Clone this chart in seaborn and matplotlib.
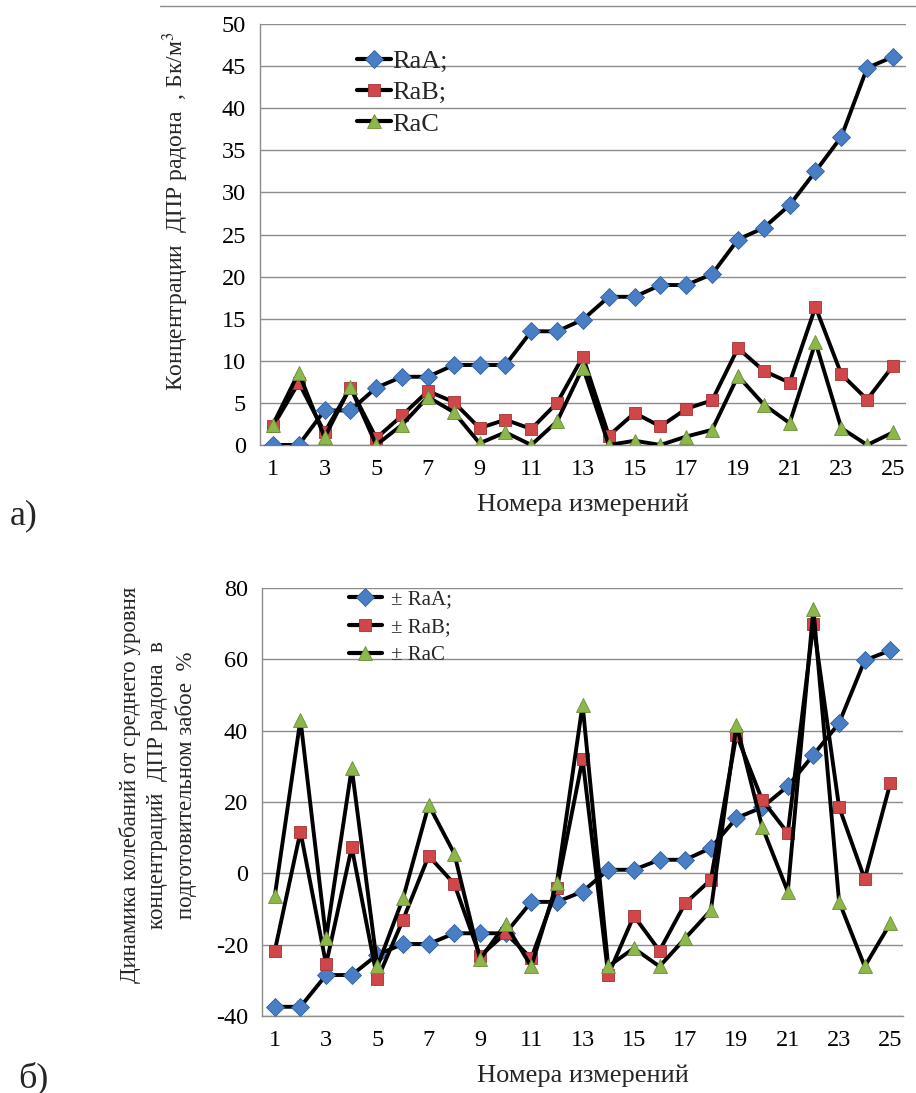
import matplotlib
matplotlib.use("Agg")
import matplotlib.pyplot as plt
import seaborn as sns
import numpy as np
import pandas as pd
from matplotlib.ticker import FixedLocator

# ---------------- data ----------------
measurements = list(range(1, 26))
x_tick_labels = [str(i) for i in range(1, 26, 2)]

raa_conc = [0, 0, 4.1, 4.1, 6.8, 8.1, 8.1, 9.5, 9.5, 9.5, 13.5, 13.5, 14.9,
            17.6, 17.6, 19.0, 19.0, 20.3, 24.4, 25.8, 28.5, 32.5, 36.6, 44.8, 46.1]
rab_conc = [2.2, 7.4, 1.5, 6.8, 0.8, 3.5, 6.4, 5.1, 2.0, 3.0, 1.9, 5.0, 10.5,
            1.1, 3.8, 2.2, 4.3, 5.3, 11.5, 8.8, 7.4, 16.4, 8.4, 5.4, 9.4]
rac_conc = [2.4, 8.6, 0.9, 6.9, 0.0, 2.4, 5.7, 3.9, 0.2, 1.5, 0.0, 2.8, 9.2,
            0.0, 0.5, 0.0, 1.0, 1.8, 8.2, 4.8, 2.6, 12.2, 2.0, 0.0, 1.5]

raa_dev = [-37.4, -37.4, -28.5, -28.5, -22.8, -19.8, -19.8, -16.8, -16.8, -16.8,
           -8.0, -8.0, -5.1, 1.0, 1.0, 3.8, 3.8, 7.1, 15.5, 18.5, 24.4, 33.2,
           42.1, 59.7, 62.5]
rab_dev = [-21.7, 11.7, -25.5, 7.3, -29.7, -13.0, 4.9, -3.0, -23.2, -16.8,
           -23.8, -4.2, 32.0, -28.5, -11.9, -21.7, -8.4, -1.8, 38.9, 20.6,
           11.3, 70.0, 18.6, -1.6, 25.3]
rac_dev = [-6.3, 43.1, -18.2, 29.5, -26.1, -7.0, 19.2, 5.5, -24.1, -14.2,
           -26.1, -2.6, 47.3, -26.1, -21.0, -26.1, -18.2, -10.4, 41.7, 13.1,
           -5.1, 74.1, -7.9, -26.1, -14.0]

top_labels = ["RaA;", "RaB;", "RaC"]
bottom_labels = ["± RaA;", "± RaB;", "± RaC"]
top_ylabel = "Концентрации  ДПР радона  , Бк/м$^3$"
bottom_ylabel = ("Динамика колебаний от среднего уровня\n"
                 "концентраций  ДПР радона  в\n"
                 "подготовительном забое  %")
xlabel = "Номера измерений"

# ---------------- style ----------------
sns.set_theme(style="white")
plt.rcParams["font.family"] = ["Liberation Serif", "DejaVu Serif"]
plt.rcParams["mathtext.fontset"] = "stix"

marker_styles = [
    dict(marker="D", markerfacecolor="#4A7EC4", markeredgecolor="#2F5E9E", markersize=9),
    dict(marker="s", markerfacecolor="#D0474A", markeredgecolor="#A33235", markersize=9),
    dict(marker="^", markerfacecolor="#8DB64C", markeredgecolor="#6A8F32", markersize=10.5),
]

fig = plt.figure(figsize=(9.16, 10.93), dpi=100)
ax1 = fig.add_axes([0.2838, 0.5929, 0.7052, 0.3851])
ax2 = fig.add_axes([0.2860, 0.0704, 0.7000, 0.3917])


def draw(ax, series, labels, ylim, ystep, ylabel, ylabel_fs, ylabel_xy, ylabel_ls,
         legend_fs, legend_loc, legend_spacing, legend_hl, legend_tp, tick_fs):
    for vals, lab, ms in zip(series, labels, marker_styles):
        df = pd.DataFrame({"x": measurements, "y": vals})
        sns.lineplot(data=df, x="x", y="y", ax=ax, color="black", linewidth=2.8,
                     label=lab, markeredgewidth=0.6, zorder=3, **ms)
    ax.set_xlim(0.5, 25.5)
    ax.set_ylim(*ylim)
    yt = np.arange(ylim[0], ylim[1] + 0.1, ystep)
    ax.yaxis.set_major_locator(FixedLocator(yt))
    ax.set_yticklabels([f"{int(v)}" for v in yt])
    ax.xaxis.set_major_locator(FixedLocator(list(range(1, 26, 2))))
    ax.set_xticklabels(x_tick_labels)
    ax.xaxis.set_minor_locator(FixedLocator(np.arange(0.5, 25.6, 1.0)))
    ax.tick_params(axis="x", which="major", length=0, labelsize=tick_fs, pad=10, colors="black")
    ax.tick_params(axis="x", which="minor", length=6, width=1.0, color="#8c8c8c", direction="out")
    ax.tick_params(axis="y", which="major", length=6, width=1.0, color="#8c8c8c",
                   labelsize=tick_fs, pad=4, labelcolor="black")
    ax.grid(axis="y", color="#8c8c8c", linewidth=1.0)
    ax.set_axisbelow(True)
    for s in ["top", "right"]:
        ax.spines[s].set_visible(False)
    for s in ["left", "bottom"]:
        ax.spines[s].set_color("#8c8c8c")
        ax.spines[s].set_linewidth(1.0)
    ax.set_xlabel(xlabel, fontsize=19, labelpad=10)
    ax.set_ylabel(ylabel, fontsize=ylabel_fs, linespacing=ylabel_ls, va="center")
    ax.yaxis.set_label_coords(*ylabel_xy)
    leg = ax.legend(loc="upper left", bbox_to_anchor=legend_loc, frameon=False,
                    fontsize=legend_fs, handlelength=legend_hl, handletextpad=legend_tp,
                    labelspacing=legend_spacing, borderaxespad=0, borderpad=0)
    for h in leg.get_lines():
        h.set_linewidth(3)


draw(ax1, [raa_conc, rab_conc, rac_conc], top_labels, (0, 50), 5, top_ylabel,
     17, (-0.13, 0.556), 1.25, 19, (0.15, 0.94), 0.3, 1.3, 0.05, 17.5)
draw(ax2, [raa_dev, rab_dev, rac_dev], bottom_labels, (-40, 80), 20, bottom_ylabel,
     16.5, (-0.162, 0.54), 1.38, 15, (0.135, 0.995), 0.4, 1.6, 0.45, 17.5)

# frame line at the top of panel a
fig.add_artist(plt.Line2D([160 / 916, 1.0], [1 - 6 / 1093, 1 - 6 / 1093],
                          color="#8c8c8c", linewidth=1.0))

fig.text(10 / 916, 1 - 516 / 1093, "а)", fontsize=26, va="center", ha="left")
fig.text(18 / 916, 1 - 1078 / 1093, "б)", fontsize=26, va="center", ha="left")

fig.savefig("out.png", dpi=100)
